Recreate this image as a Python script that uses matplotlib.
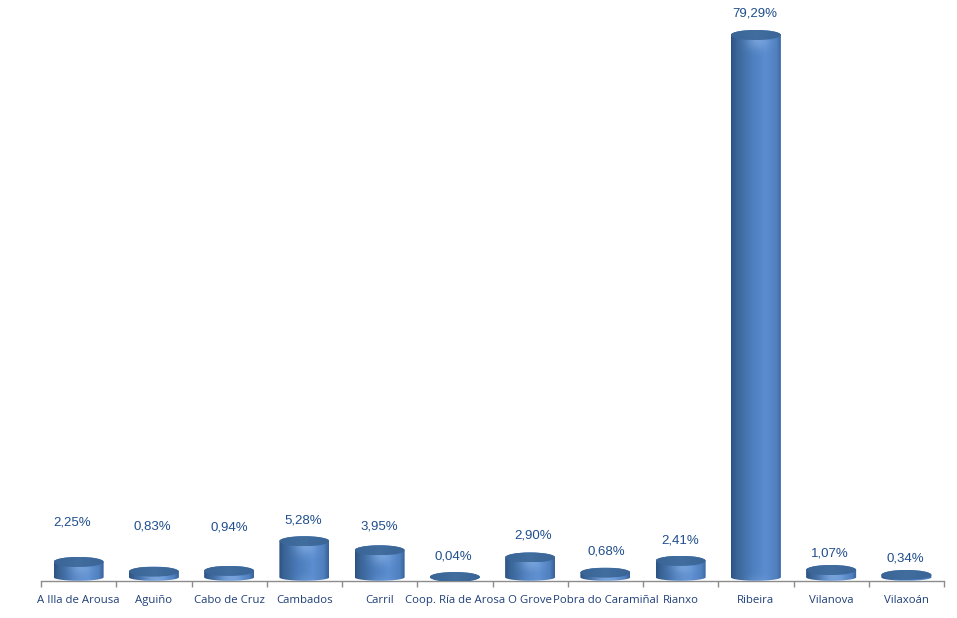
import numpy as np
import matplotlib
matplotlib.use("Agg")
import matplotlib.pyplot as plt
from matplotlib.path import Path
from matplotlib.patches import PathPatch, Ellipse
from matplotlib.colors import LinearSegmentedColormap, to_rgb

categories = ["A Illa de Arousa", "Aguiño", "Cabo de Cruz", "Cambados", "Carril",
              "Coop. Ría de Arosa", "O Grove", "Pobra do Caramiñal", "Rianxo",
              "Ribeira", "Vilanova", "Vilaxoán"]
values = [2.25, 0.83, 0.94, 5.28, 3.95, 0.04, 2.90, 0.68, 2.41, 79.29, 1.07, 0.34]
value_labels = ["2,25%", "0,83%", "0,94%", "5,28%", "3,95%", "0,04%",
                "2,90%", "0,68%", "2,41%", "79,29%", "1,07%", "0,34%"]
# manual label placement of the original chart (pixels above bar cap, pixels sideways)
label_rise = [39.3, 45.3, 43.3, 20.3, 23.3, 20.3, 21.8, 20.9, 20.3, 21.3, 16.3, 16.3]
label_shift = [-6, -2, 0, -1, 0, -2, 3, 1, 0, -1, -1, -1]

W, H = 957, 618
fig = plt.figure(figsize=(W / 100, H / 100), dpi=100, facecolor="white")
ax = fig.add_axes([41 / W, (H - 580.8) / H, 903 / W, 580.8 / H])
PX = 6.84               # pixels per percentage point
ymin, ymax = -3.5 / PX, 577.3 / PX
xpx = 903 / 12
hw = 25 / xpx           # half bar width in data units
eh = 5.0 / PX           # cap half height in data units
ef = 3.4 / PX           # foot curve depth in data units

body_cmap = LinearSegmentedColormap.from_list(
    "body", [(0, "#2C5283"), (0.1, "#3A6496"), (0.4, "#4C7DBC"), (0.68, "#5B8DD0"),
             (0.9, "#5080BE"), (1, "#37619A")])
cap_cmap = LinearSegmentedColormap.from_list(
    "cap", [(0, "#3A6596"), (0.5, "#416D9F"), (1, "#3A6596")])


def bar_path(x, top):
    t = np.linspace(0, np.pi, 40)
    xs = x + hw * np.cos(t)
    low = np.column_stack([xs[::-1], -ef * np.sin(t)])
    up = np.column_stack([xs, top + eh * np.sin(t)])
    v = np.vstack([low, up, low[:1]])
    return Path(v, [Path.MOVETO] + [Path.LINETO] * (len(v) - 2) + [Path.CLOSEPOLY])


def glow(colour, strength, falloff):
    out = np.zeros((32, 64, 4))
    xx = np.linspace(-1, 1, 64)
    yy = np.linspace(0, 1, 32)
    out[..., :3] = to_rgb(colour)
    out[..., 3] = strength * np.exp(-((xx - 0.05) / 0.45) ** 2)[None, :] * np.exp(-(yy[:, None] / falloff) ** 2)
    return out


for i, (v, lab) in enumerate(zip(values, value_labels)):
    top = v
    clip = PathPatch(bar_path(i, top), transform=ax.transData, fc="none", ec="none")
    ax.add_patch(clip)
    g = np.linspace(0, 1, 128).reshape(1, -1)
    im = ax.imshow(g, cmap=body_cmap, extent=[i - hw, i + hw, -ef, top + eh],
                   aspect="auto", zorder=2, interpolation="bilinear")
    im.set_clip_path(clip)
    # glow below the cap's front edge
    gh = 16 / PX
    im1 = ax.imshow(glow("#A9CBF5", 0.4, 0.6), extent=[i - hw, i + hw, top - eh - gh, top - eh],
                    aspect="auto", zorder=3, interpolation="bilinear")
    im1.set_clip_path(clip)
    # faint glow at the foot
    fh = 10 / PX
    im2 = ax.imshow(glow("#8FB6EA", 0.2, 0.6)[::-1], extent=[i - hw, i + hw, -ef, -ef + fh],
                    aspect="auto", zorder=3, interpolation="bilinear")
    im2.set_clip_path(clip)
    cap = Ellipse((i, top), 2 * hw, 2 * eh, transform=ax.transData, fc="none", ec="none")
    ax.add_patch(cap)
    im3 = ax.imshow(g, cmap=cap_cmap, extent=[i - hw, i + hw, top - eh, top + eh],
                    aspect="auto", zorder=4, interpolation="bilinear")
    im3.set_clip_path(cap)
    ax.text(i + label_shift[i] / xpx, top + label_rise[i] / PX, lab, ha="center", va="center",
            fontsize=9.5, family="Liberation Sans", color="#1F4E8C", zorder=5)

ax.set_xlim(-0.5, 11.5)
ax.set_ylim(ymin, ymax)
for s in ("left", "right", "top"):
    ax.spines[s].set_visible(False)
ax.spines["bottom"].set_color("#8C8C8C")
ax.spines["bottom"].set_linewidth(1)
ax.spines["bottom"].set_zorder(1)
ax.set_yticks([])
ax.set_xticks(np.arange(-0.5, 12, 1))
ax.set_xticklabels([])
ax.tick_params(axis="x", length=4, width=1, color="#8C8C8C")
ax.set_xticks(np.arange(12), minor=True)
ax.set_xticklabels(categories, minor=True, fontsize=8.2, family="Open Sans", color="#1F3F78")
ax.tick_params(axis="x", which="minor", length=0, pad=10.5)
fig.savefig("out.png", dpi=100, facecolor="white")
